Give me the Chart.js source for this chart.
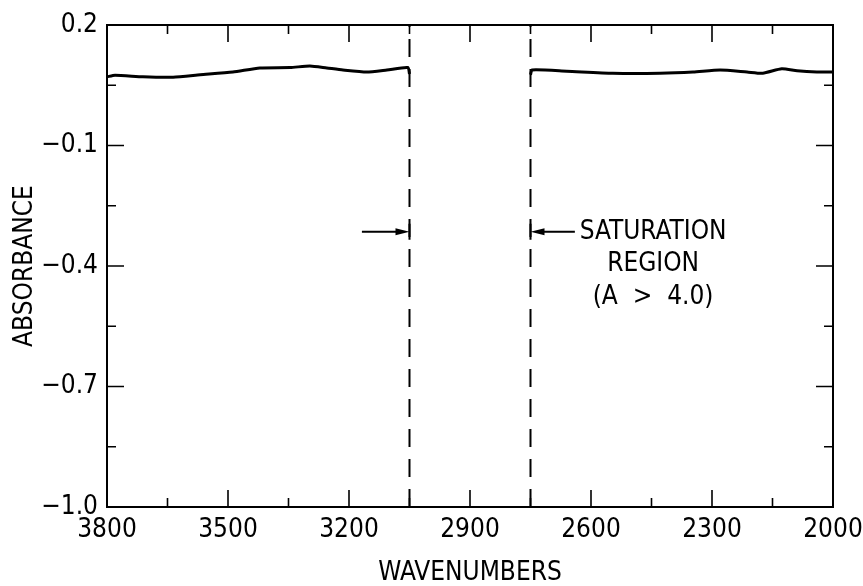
<!DOCTYPE html>
<html>
<head>
<meta charset="utf-8">
<script src="https://cdn.jsdelivr.net/npm/chart.js@4.4.1/dist/chart.umd.min.js"></script>
<style>
  html, body { margin: 0; padding: 0; background: #fff; }
  #wrap { width: 863px; height: 586px; }
</style>
</head>
<body>
<div id="wrap"><canvas id="spectrum"></canvas></div>
<script>
// trace, either side of the saturated band (cm-1 / absorbance)
const wnLeft = [3800, 3780, 3711, 3636, 3569, 3488, 3421, 3346, 3297, 3255, 3215, 3156, 3106, 3054, 3050];
const absLeft = [0.071, 0.075, 0.071, 0.070, 0.076, 0.083, 0.093, 0.094, 0.098, 0.093, 0.088, 0.083, 0.088, 0.094, 0.078];
const wnRight = [2750, 2746, 2660, 2546, 2429, 2347, 2280, 2213, 2174, 2127, 2089, 2040, 2000];
const absRight = [0.076, 0.088, 0.085, 0.080, 0.080, 0.083, 0.088, 0.083, 0.080, 0.091, 0.086, 0.083, 0.083];

// saturation band edges and the note pointing at them
const satEdges = [3050, 2750];
const arrowTails = [3168, 2640];
const arrowAbs = -0.315;
const noteWn = 2446;
const noteLines = ['SATURATION', 'REGION', '(A  >  4.0)'];

// axes
const wnRange = [2000, 3800];
const absRange = [-1.0, 0.2];
const wnStep = 150;
const absStep = 0.15;

const FONT = '"Liberation Sans Narrow", "DejaVu Sans Condensed", "Liberation Sans", sans-serif';
Chart.defaults.font.family = FONT;
Chart.defaults.font.size = 26;
Chart.defaults.color = '#000';

const isMajorWn = (v) => Math.round((wnRange[1] - v) / wnStep) % 2 === 0;
const isMajorAbs = (v) => Math.round((v - absRange[0]) / absStep) % 2 === 0;

const toXY = (xs, ys) => xs.map((x, i) => ({ x, y: ys[i] }));
const edgeLine = (wn) => [{ x: wn, y: absRange[0] }, { x: wn, y: absRange[1] }];

// frame, inward ticks on all four sides, arrows and the note
const frameAndNotes = {
  id: 'frameAndNotes',
  afterDatasetsDraw(chart) {
    const { ctx, chartArea: a, scales: { x, y } } = chart;
    ctx.save();
    ctx.strokeStyle = '#000';
    ctx.fillStyle = '#000';
    ctx.lineWidth = 2;
    ctx.strokeRect(a.left, a.top, a.right - a.left, a.bottom - a.top);

    ctx.lineWidth = 1.6;
    ctx.beginPath();
    x.ticks.forEach((t) => {
      const px = x.getPixelForValue(t.value);
      const len = isMajorWn(t.value) ? 17 : 9;
      ctx.moveTo(px, a.bottom); ctx.lineTo(px, a.bottom - len);
      ctx.moveTo(px, a.top); ctx.lineTo(px, a.top + len);
    });
    y.ticks.forEach((t) => {
      const py = y.getPixelForValue(t.value);
      const len = isMajorAbs(t.value) ? 17 : 9;
      ctx.moveTo(a.left, py); ctx.lineTo(a.left + len, py);
      ctx.moveTo(a.right, py); ctx.lineTo(a.right - len, py);
    });
    ctx.stroke();

    // arrows toward the band edges, each stopped by a short bar
    const ay = y.getPixelForValue(arrowAbs);
    satEdges.forEach((edge, i) => {
      const tip = x.getPixelForValue(edge);
      const tail = x.getPixelForValue(arrowTails[i]);
      const dir = Math.sign(tip - tail);
      ctx.lineWidth = 2;
      ctx.beginPath();
      ctx.moveTo(tail, ay); ctx.lineTo(tip - dir * 8, ay);
      ctx.moveTo(tip, ay - 8); ctx.lineTo(tip, ay + 8);
      ctx.stroke();
      ctx.beginPath();
      ctx.moveTo(tip, ay);
      ctx.lineTo(tip - dir * 14, ay - 3.5);
      ctx.lineTo(tip - dir * 14, ay + 3.5);
      ctx.closePath();
      ctx.fill();
    });

    ctx.font = '26px ' + FONT;
    ctx.textAlign = 'center';
    ctx.textBaseline = 'middle';
    const nx = x.getPixelForValue(noteWn);
    noteLines.forEach((line, i) => ctx.fillText(line, nx, ay + i * 32.5));
    ctx.restore();
  }
};

new Chart(document.getElementById('spectrum'), {
  type: 'line',
  data: {
    datasets: [
      { data: toXY(wnLeft, absLeft), borderColor: '#000', borderWidth: 3, pointRadius: 0, tension: 0.2 },
      { data: toXY(wnRight, absRight), borderColor: '#000', borderWidth: 3, pointRadius: 0, tension: 0.2 },
      { data: edgeLine(satEdges[0]), borderColor: '#000', borderWidth: 2, borderDash: [18, 12], pointRadius: 0 },
      { data: edgeLine(satEdges[1]), borderColor: '#000', borderWidth: 2, borderDash: [18, 12], pointRadius: 0 }
    ]
  },
  options: {
    responsive: true,
    maintainAspectRatio: false,
    animation: false,
    layout: { padding: { top: 25, right: 30, left: 0, bottom: 0 } },
    scales: {
      x: {
        type: 'linear',
        reverse: true,
        min: wnRange[0],
        max: wnRange[1],
        grid: { display: false, drawTicks: false },
        border: { display: false },
        ticks: {
          stepSize: wnStep,
          autoSkip: false,
          maxRotation: 0,
          padding: 8,
          callback: (v) => (isMajorWn(v) ? String(v) : '')
        },
        title: { display: true, text: 'WAVENUMBERS', font: { size: 26, lineHeight: 1 }, padding: 0 },
        afterFit: (scale) => {
          scale.height = 79;
          scale.paddingLeft = 0;
          scale.paddingRight = 0;
        }
      },
      y: {
        min: absRange[0],
        max: absRange[1],
        grid: { display: false, drawTicks: false },
        border: { display: false },
        ticks: {
          stepSize: absStep,
          autoSkip: false,
          padding: 9,
          callback: (v) => (isMajorAbs(v) ? v.toFixed(1).replace('-', '\u2212') : '')
        },
        title: { display: true, text: 'ABSORBANCE', font: { size: 26, lineHeight: 1 }, padding: { top: 12, bottom: 0 } },
        afterFit: (scale) => {
          scale.width = 107;
          scale.paddingTop = 0;
          scale.paddingBottom = 0;
        }
      }
    },
    plugins: {
      legend: { display: false },
      tooltip: { enabled: false }
    }
  },
  plugins: [frameAndNotes]
});
</script>
</body>
</html>
